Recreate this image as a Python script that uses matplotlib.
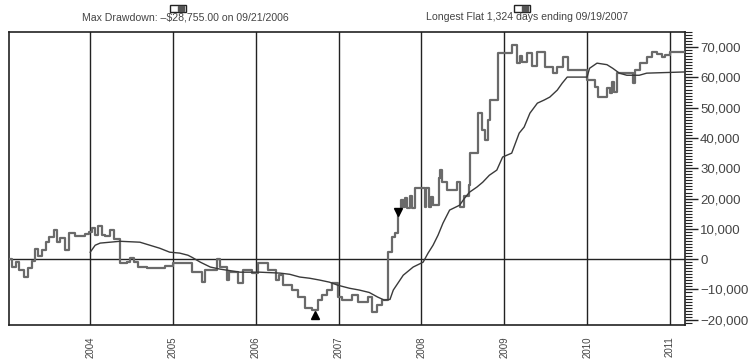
import matplotlib
matplotlib.use("Agg")
import matplotlib.pyplot as plt
from matplotlib.ticker import MultipleLocator, FuncFormatter
from matplotlib.patches import Rectangle

plt.rcParams['font.family'] = ['Liberation Sans', 'DejaVu Sans']

# equity curve (decimal year, $) - drawn as steps
eq_x = [2003.02, 2003.05, 2003.10, 2003.14, 2003.20, 2003.25, 2003.30, 2003.33,
        2003.37, 2003.42, 2003.47, 2003.50, 2003.56, 2003.60, 2003.64, 2003.70,
        2003.74, 2003.82, 2003.94, 2003.98, 2004.02, 2004.06, 2004.10, 2004.14,
        2004.18, 2004.24, 2004.29, 2004.36, 2004.45, 2004.48, 2004.53, 2004.58,
        2004.68, 2004.90, 2005.00, 2005.23, 2005.35, 2005.39, 2005.53, 2005.57,
        2005.65, 2005.67, 2005.79, 2005.84, 2005.95, 2006.03, 2006.15, 2006.24,
        2006.28, 2006.33, 2006.44, 2006.51, 2006.59, 2006.68, 2006.75, 2006.80,
        2006.86, 2006.92, 2006.99, 2007.04, 2007.16, 2007.23, 2007.35, 2007.40,
        2007.46, 2007.52, 2007.60, 2007.65, 2007.68, 2007.72, 2007.75, 2007.78,
        2007.80, 2007.83, 2007.86, 2007.89, 2007.92, 2008.04, 2008.06, 2008.09,
        2008.11, 2008.14, 2008.21, 2008.23, 2008.25, 2008.31, 2008.43, 2008.47,
        2008.51, 2008.57, 2008.59, 2008.68, 2008.73, 2008.77, 2008.80, 2008.83,
        2008.93, 2009.09, 2009.15, 2009.19, 2009.22, 2009.27, 2009.33, 2009.40,
        2009.49, 2009.59, 2009.64, 2009.71, 2009.77, 2009.82, 2010.00, 2010.09,
        2010.13, 2010.24, 2010.28, 2010.30, 2010.33, 2010.36, 2010.55, 2010.58,
        2010.64, 2010.72, 2010.79, 2010.85, 2010.90, 2010.94, 2011.00, 2011.18]
eq_y = [0, -2500, -1000, -3500, -6000, -3000, -500, 3500,
        1000, 3000, 5500, 7300, 9500, 5500, 7000, 3000,
        8500, 7800, 8200, 9000, 10200, 8000, 10800, 8000,
        7500, 9600, 6500, -1300, -1000, 500, -1000, -2600,
        -3000, -2200, -1300, -4300, -7600, -3600, 0, -2600,
        -6900, -4300, -8000, -3600, -4600, -1300, -3600, -6900,
        -5300, -8600, -10200, -12500, -16200, -16800, -13500, -11900,
        -10200, -7900, -12500, -13500, -11900, -14200, -12500, -17500,
        -15200, -13500, 2300, 7300, 8600, 16200, 19500, 17200,
        20200, 16800, 21000, 16800, 23400, 17200, 23400, 17200,
        20500, 17800, 26700, 29400, 25400, 22800, 25400, 17200,
        21000, 24400, 35000, 48200, 42600, 39300, 45900, 52500,
        68000, 70600, 64700, 67000, 65000, 68000, 63700, 68300,
        63400, 61400, 63400, 66700, 62400, 62400, 59100, 56800,
        53500, 56400, 54800, 58400, 55100, 61400, 58100, 62400,
        64700, 66700, 68300, 67600, 66700, 67300, 68300, 68300]

# moving average of the equity curve
ma_x = [2004.00, 2004.06, 2004.12, 2004.36, 2004.60, 2004.72, 2004.84, 2004.96,
        2005.08, 2005.18, 2005.23, 2005.33, 2005.45, 2005.57, 2005.81, 2006.05,
        2006.29, 2006.41, 2006.53, 2006.65, 2006.77, 2006.89, 2006.99, 2007.13,
        2007.25, 2007.37, 2007.47, 2007.55, 2007.62, 2007.66, 2007.78, 2007.90,
        2008.02, 2008.08, 2008.14, 2008.20, 2008.26, 2008.34, 2008.46, 2008.52,
        2008.58, 2008.67, 2008.74, 2008.82, 2008.91, 2008.98, 2009.09, 2009.18,
        2009.24, 2009.31, 2009.40, 2009.48, 2009.55, 2009.64, 2009.70, 2009.76,
        2010.00, 2010.03, 2010.12, 2010.24, 2010.31, 2010.39, 2010.48, 2010.63,
        2010.72, 2011.18]
ma_y = [2300, 4600, 5300, 5900, 5600, 4600, 3600, 2300,
        2000, 1300, 600, -1000, -2600, -3300, -4300, -4300,
        -4600, -5000, -5900, -6300, -6900, -7600, -8600, -9600,
        -10200, -11000, -12500, -13500, -13300, -10200, -5300, -2600,
        -1000, 2000, 4600, 7900, 11900, 16200, 17800, 20100,
        22100, 23800, 25400, 27700, 29400, 33700, 35000, 41600,
        43600, 48200, 51500, 52500, 53500, 55800, 58100, 60100,
        60100, 63000, 64700, 64200, 63000, 61400, 60700, 60700,
        61400, 61800]

years = [2004, 2005, 2006, 2007, 2008, 2009, 2010, 2011]
dd_date, dd_value = 2006.72, -18400
flat_date, flat_value = 2007.72, 15600

fig = plt.figure(figsize=(7.55, 3.59), dpi=100)
ax = fig.add_axes([0.012, 0.095, 0.895, 0.816])

ax.plot(eq_x, eq_y, drawstyle='steps-post', color='#6a6a6a', lw=1.6, zorder=3)
ax.plot(ma_x, ma_y, color='#3a3a3a', lw=1.0, zorder=3)

ax.plot(dd_date, dd_value, marker='^', color='black', ms=6, zorder=4)
ax.plot(flat_date, flat_value, marker='v', color='black', ms=6, zorder=4)

for y in years:
    ax.axvline(y, color='#222222', lw=1.0, zorder=2)
ax.axhline(0, color='#222222', lw=1.0, zorder=2)

ax.set_xlim(2003.02, 2011.18)
ax.set_ylim(-21700, 75000)
ax.set_xticks(years)
ax.set_xticklabels([str(y) for y in years], rotation=90, fontsize=7, color='#444444')
ax.tick_params(axis='x', length=0, pad=8)

ax.yaxis.tick_right()
ax.yaxis.set_major_locator(MultipleLocator(10000))
ax.yaxis.set_minor_locator(MultipleLocator(1000))
ax.yaxis.set_major_formatter(FuncFormatter(
    lambda v, p: ('\u2212' if v < 0 else '') + f'{abs(int(v)):,}'))
ax.tick_params(axis='y', which='major', length=9, width=1.0, labelsize=9.5,
               colors='#222222', labelcolor='#444444', pad=2)
ax.tick_params(axis='y', which='minor', length=5, width=0.8, colors='#222222')

for s in ax.spines.values():
    s.set_color('#222222')
    s.set_linewidth(1.2)

# header notes with their little icons
fig.text(185 / 755, 1 - 17 / 359, 'Max Drawdown: \u2013$28,755.00 on 09/21/2006',
         ha='center', va='center', fontsize=7.6, color='#444444')
fig.text(527 / 755, 1 - 17 / 359, 'Longest Flat 1,324 days ending 09/19/2007',
         ha='center', va='center', fontsize=7.6, color='#444444')
for cx in [178, 522]:
    fig.patches.append(Rectangle(((cx - 8) / 755, 1 - 12 / 359), 16 / 755, 7 / 359,
                                 transform=fig.transFigure, fill=False,
                                 edgecolor='#222222', lw=1.0))
    fig.patches.append(Rectangle((cx / 755, 1 - 11 / 359), 6 / 755, 5 / 359,
                                 transform=fig.transFigure, color='#555555'))

fig.savefig('out.png', dpi=100)
